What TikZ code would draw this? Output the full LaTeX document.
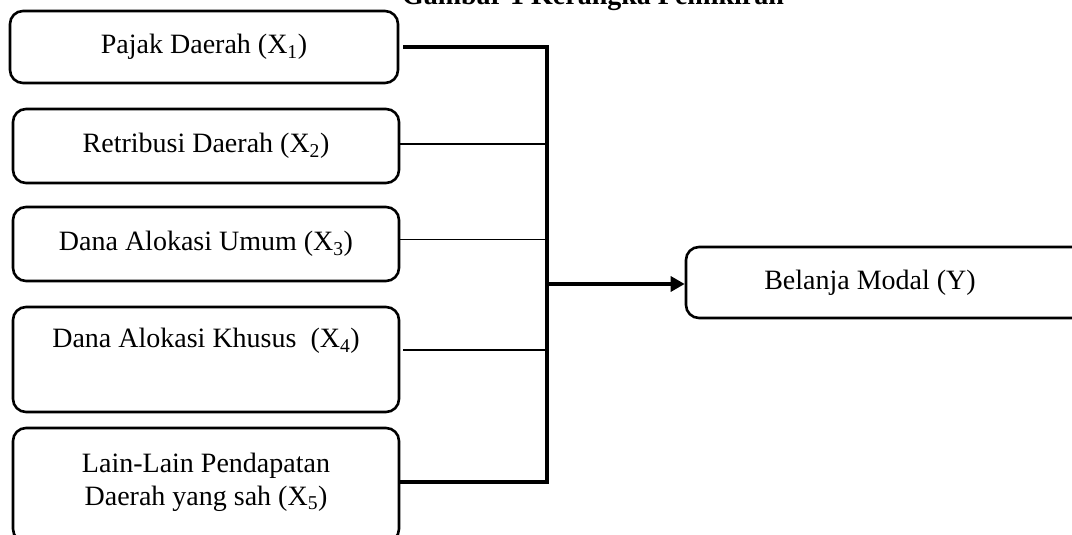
\documentclass[tikz,border=0pt]{standalone}
\usepackage{fontspec}
\setmainfont{Liberation Serif}
\usetikzlibrary{arrows.meta}
\begin{document}
\begin{tikzpicture}[x=1pt,y=1pt,
  varbox/.style={draw, line width=2.6pt, rounded corners=13pt, inner sep=0pt},
  lbl/.style={font=\fontsize{28}{33}\selectfont, inner sep=0pt, align=center},
  thinline/.style={line width=1.5pt},
  thickline/.style={line width=3.2pt},
  ttl/.style={font=\fontsize{28}{33}\selectfont\bfseries, inner sep=0pt, anchor=base}]
\clip (0,0) rectangle (1072,535);
% title (cut by the top edge, as in the reference)
\node[ttl] (title) at (593,530) {Gambar 1 Kerangka Pemikiran};
% boxes
\node[varbox, minimum width=388, minimum height=72] (B1) at (204,488) {};
\node[lbl] (T1) at (B1.center) {Pajak Daerah (X\textsubscript{1})};
\node[varbox, minimum width=386, minimum height=74] (B2) at (206,389) {};
\node[lbl] (T2) at (B2.center) {Retribusi Daerah (X\textsubscript{2})};
\node[varbox, minimum width=386, minimum height=74] (B3) at (206,291) {};
\node[lbl] (T3) at (B3.center) {Dana Alokasi Umum (X\textsubscript{3})};
\node[varbox, minimum width=386, minimum height=105] (B4) at (206,175.5) {};
\node[lbl] (T4) at (206,194) {Dana Alokasi Khusus\ \ (X\textsubscript{4})};
\node[varbox, minimum width=386, minimum height=114] (B5) at (206,50) {};
\node[lbl] (T5) at (206,53) {Lain-Lain Pendapatan\\Daerah yang sah (X\textsubscript{5})};
\node[varbox, minimum width=404, minimum height=71] (Y) at (888,252.5) {};
\node[lbl] (TY) at (870,252.5) {Belanja Modal (Y)};
% junction coordinates
\coordinate (V1) at (547,488);
\coordinate (V5) at (547,53);
\coordinate (VM) at (547,251);
% connectors
\draw[thickline] ([xshift=4pt]B1.east) -- (V1) -- (V5) -- ([yshift=3pt]B5.east);
\draw[thinline] ([yshift=2pt]B2.east) -- ([yshift=2pt]B2.east -| V1);
\draw[thinline] ([yshift=4.5pt]B3.east) -- ([yshift=4.5pt]B3.east -| V1);
\draw[thinline] ([xshift=3pt,yshift=9.5pt]B4.east) -- ([yshift=9.5pt]B4.east -| V1);
\draw[thickline, -{Triangle[length=14pt,width=15pt]}] (VM) -- (Y.west |- VM);
\end{tikzpicture}
\end{document}
